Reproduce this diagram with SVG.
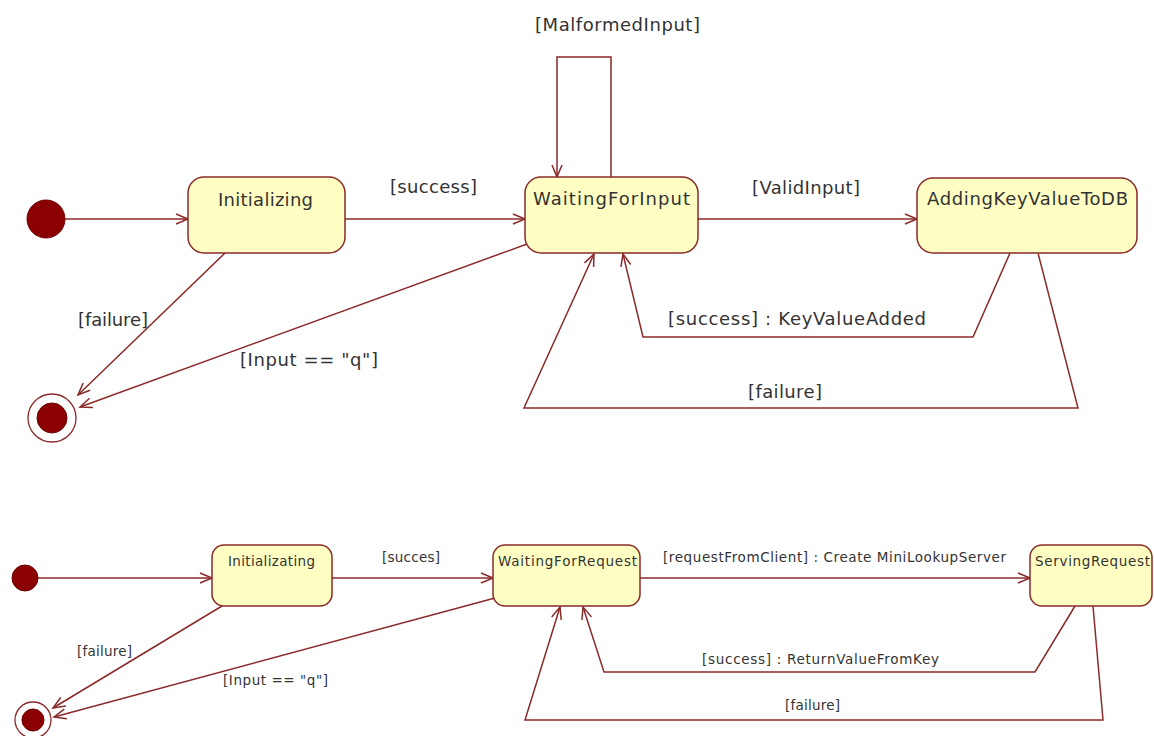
<svg xmlns="http://www.w3.org/2000/svg" width="1154" height="736" viewBox="0 0 1154 736">
<style>
.bg{fill:#ffffff}
.st{fill:#ffffc4;stroke:#8a2a2a;stroke-width:1.5}
.ini{fill:#8b0000;stroke:#6e0000;stroke-width:1}
.fin{fill:none;stroke:#8a2a2a;stroke-width:1.3}
.ln{fill:none;stroke:#8a2a2a;stroke-width:1.5}
.t{font-family:"DejaVu Sans","Liberation Sans",sans-serif;fill:#333333}
.big{font-size:18px}
.sml{font-size:13.5px}
</style>
<defs>
<marker id="ah" viewBox="-14 -7 16 14" refX="0" refY="0" markerWidth="16" markerHeight="14" markerUnits="userSpaceOnUse" orient="auto">
<path d="M-12,-5 L0,0 L-12,5" fill="none" stroke="#8a2a2a" stroke-width="1.5"/>
</marker>
</defs>
<rect class="bg" x="0" y="0" width="1154" height="736"/>

<g id="connectors">
<!-- top diagram -->
<line class="ln" x1="65" y1="219" x2="188" y2="219" marker-end="url(#ah)"/>
<line class="ln" x1="345" y1="219" x2="525" y2="219" marker-end="url(#ah)"/>
<line class="ln" x1="698" y1="219" x2="917" y2="219" marker-end="url(#ah)"/>
<polyline class="ln" points="611,177 611,57 557,57 557,177" marker-end="url(#ah)"/>
<polyline class="ln" points="1010,253 973,337 643,337 623,254" marker-end="url(#ah)"/>
<polyline class="ln" points="1038,253 1078,408 524,408 594,254" marker-end="url(#ah)"/>
<line class="ln" x1="225" y1="253" x2="78" y2="395" marker-end="url(#ah)"/>
<line class="ln" x1="527" y1="244" x2="80" y2="407" marker-end="url(#ah)"/>
<!-- bottom diagram -->
<line class="ln" x1="38" y1="578" x2="212" y2="578" marker-end="url(#ah)"/>
<line class="ln" x1="332" y1="578" x2="493" y2="578" marker-end="url(#ah)"/>
<line class="ln" x1="640" y1="578" x2="1030" y2="578" marker-end="url(#ah)"/>
<polyline class="ln" points="1075,606 1035,672 604,672 583,607" marker-end="url(#ah)"/>
<polyline class="ln" points="1093,606 1103,720 525,720 560,607" marker-end="url(#ah)"/>
<line class="ln" x1="222" y1="606" x2="53" y2="708" marker-end="url(#ah)"/>
<line class="ln" x1="495" y1="598" x2="54" y2="717" marker-end="url(#ah)"/>
</g>

<g id="labels">
<text class="t big" x="390" y="193" textLength="87">[success]</text>
<text class="t big" x="752" y="194" textLength="108">[ValidInput]</text>
<text class="t big" x="535" y="31" textLength="165">[MalformedInput]</text>
<text class="t big" x="78" y="326" textLength="70">[failure]</text>
<text class="t big" x="240" y="366" textLength="138">[Input == "q"]</text>
<text class="t big" x="668" y="325" textLength="258">[success] : KeyValueAdded</text>
<text class="t big" x="748" y="398" textLength="74">[failure]</text>
<text class="t sml" x="382" y="562" textLength="58">[succes]</text>
<text class="t sml" x="663" y="562" textLength="343">[requestFromClient] : Create MiniLookupServer</text>
<text class="t sml" x="77" y="656" textLength="55">[failure]</text>
<text class="t sml" x="223" y="685" textLength="105">[Input == "q"]</text>
<text class="t sml" x="702" y="664" textLength="237">[success] : ReturnValueFromKey</text>
<text class="t sml" x="785" y="710" textLength="55">[failure]</text>
</g>

<g id="initial1"><circle class="ini" cx="46" cy="219" r="19"/></g>
<g id="final1"><circle class="fin" cx="52" cy="418" r="24"/><circle class="ini" cx="52" cy="418" r="15"/></g>
<g id="Initializing"><rect class="st" x="188" y="177" width="157" height="76" rx="16"/><text class="t big" x="218" y="206" textLength="95">Initializing</text></g>
<g id="WaitingForInput"><rect class="st" x="525" y="177" width="173" height="76" rx="16"/><text class="t big" x="533" y="205" textLength="157">WaitingForInput</text></g>
<g id="AddingKeyValueToDB"><rect class="st" x="917" y="178" width="220" height="75" rx="16"/><text class="t big" x="927" y="205" textLength="201">AddingKeyValueToDB</text></g>

<g id="initial2"><circle class="ini" cx="25" cy="578" r="13"/></g>
<g id="final2"><circle class="fin" cx="33" cy="720" r="18"/><circle class="ini" cx="33" cy="720" r="11"/></g>
<g id="Initializating"><rect class="st" x="212" y="545" width="120" height="61" rx="12"/><text class="t sml" x="228" y="566" textLength="87">Initializating</text></g>
<g id="WaitingForRequest"><rect class="st" x="493" y="545" width="147" height="61" rx="12"/><text class="t sml" x="498" y="566" textLength="139">WaitingForRequest</text></g>
<g id="ServingRequest"><rect class="st" x="1030" y="545" width="122" height="61" rx="12"/><text class="t sml" x="1035" y="566" textLength="115">ServingRequest</text></g>
</svg>
